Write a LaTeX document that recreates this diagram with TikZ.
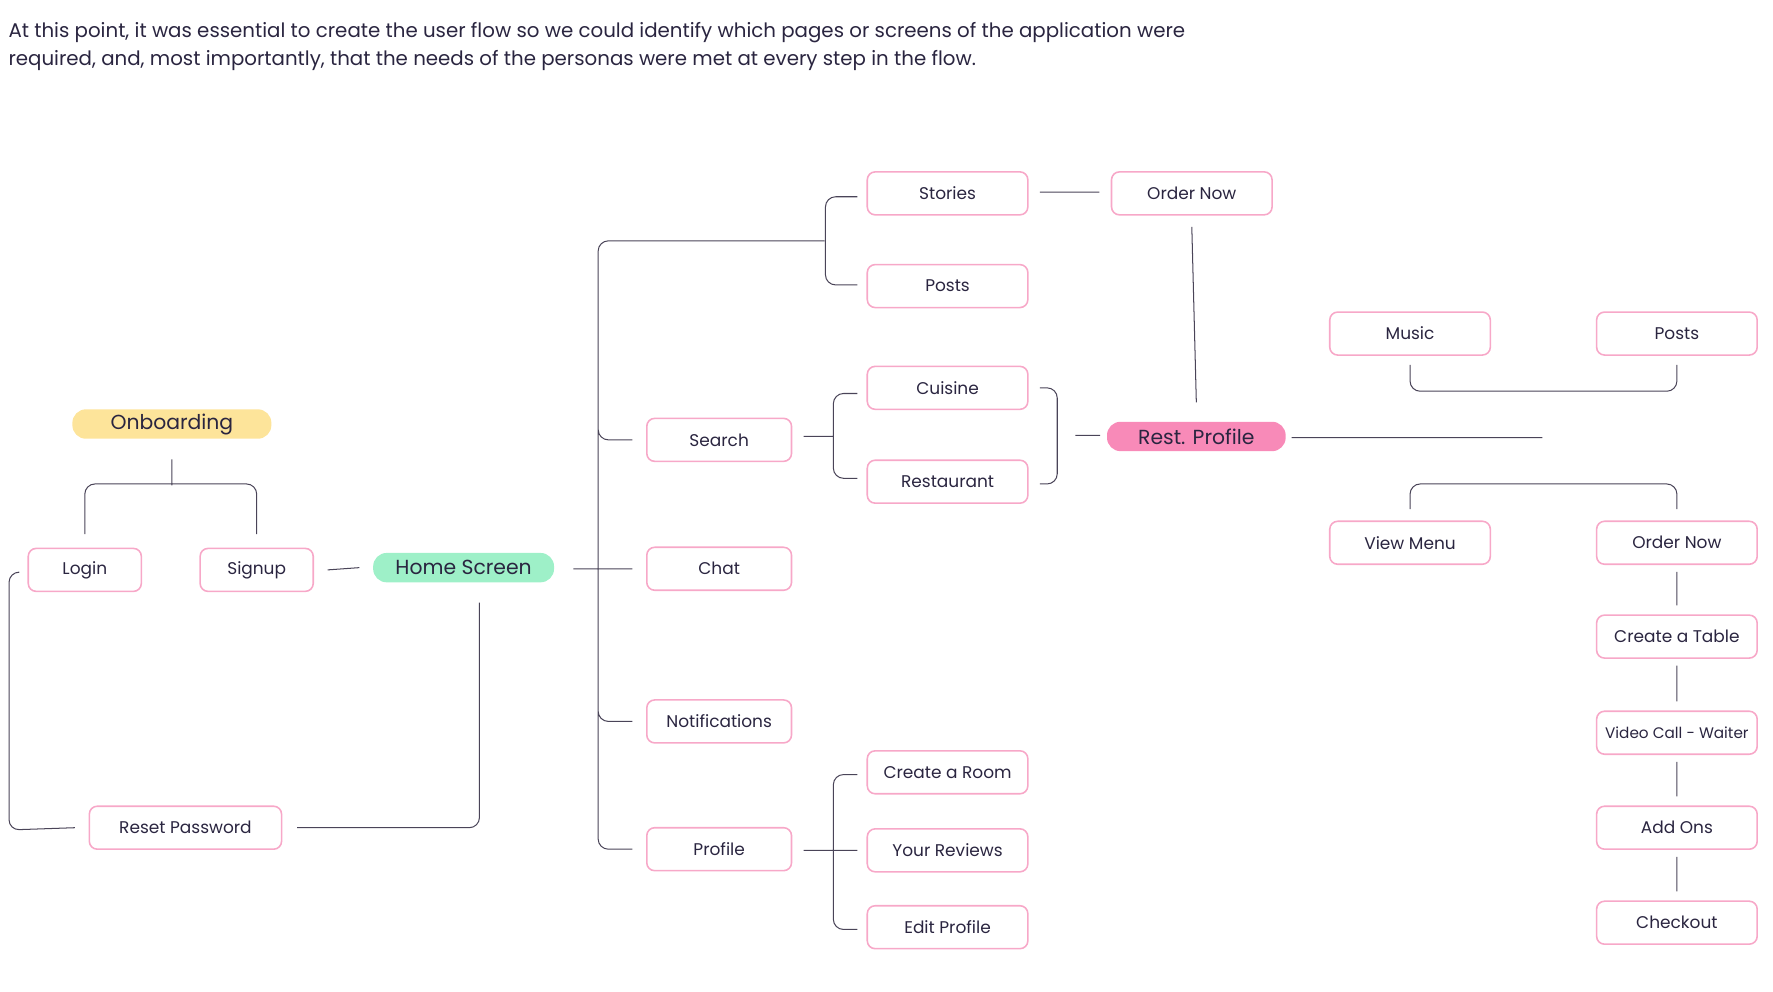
\documentclass[tikz,border=0pt]{standalone}
\usepackage{fontspec}
\setmainfont{Poppins}
\definecolor{boxpink}{HTML}{F7A8C8}
\definecolor{wire}{HTML}{4A4458}
\definecolor{ink}{HTML}{2A2540}
\definecolor{onbY}{HTML}{FDE49A}
\definecolor{homeG}{HTML}{9EF0C8}
\definecolor{restP}{HTML}{F88AB8}
\begin{document}
\begin{tikzpicture}[x=1pt,y=-1pt,
	box/.style = {draw=boxpink,line width=1.4pt,rounded corners=7pt,minimum width=142pt,minimum height=38pt,inner sep=0pt,text=ink,font=\fontsize{15}{18}\selectfont},
	hl node/.style = {rounded corners=12pt,minimum height=26pt,inner sep=0pt,text=ink,font=\fontsize{18}{20}\selectfont},
	wire/.style = {draw=wire,line width=0.9pt,rounded corners=9pt}]
	\useasboundingbox (0,0) rectangle (1568,877);
	\node[anchor=north west,align=left,text=ink,font=\fontsize{17.5}{25}\selectfont] (head) at (4,16)
	{At this point, it was essential to create the user flow so we could identify which pages or screens of the application were\\
	 required, and, most importantly, that the needs of the personas were met at every step in the flow.};

	% left part
	\node[hl node,fill=onbY,minimum width=176pt] (onb) at (152,375) {Onboarding};
	\node[box,minimum width=100pt] (login) at (75,504) {Login};
	\node[box,minimum width=100pt] (signup) at (227,504) {Signup};
	\node[hl node,fill=homeG,minimum width=160pt] (home) at (410,502) {Home Screen};
	\node[box,minimum width=170pt] (reset) at (164,732) {Reset Password};

	% middle column
	\node[box,minimum width=128pt] (search) at (636,389) {Search};
	\node[box,minimum width=128pt] (chat) at (636,503) {Chat};
	\node[box,minimum width=128pt] (notif) at (636,638) {Notifications};
	\node[box,minimum width=128pt] (profile) at (636,751) {Profile};
	\node[box] (stories) at (838,171) {Stories};
	\node[box] (posts) at (838,253) {Posts};
	\node[box] (cuisine) at (838,343) {Cuisine};
	\node[box] (restaurant) at (838,426) {Restaurant};
	\node[box] (room) at (838,683) {Create a Room};
	\node[box] (reviews) at (838,752) {Your Reviews};
	\node[box] (edit) at (838,820) {Edit Profile};

	% restaurant
	\node[box] (order1) at (1054,171) {Order Now};
	\node[hl node,fill=restP,minimum width=158pt] (rest) at (1058,386) {Rest. Profile};
	\node[box] (music) at (1247,295) {Music};
	\node[box] (posts2) at (1483,295) {Posts};
	\node[box] (menu) at (1247,480) {View Menu};
	\node[box] (order2) at (1483,480) {Order Now};
	\node[box] (table) at (1483,563) {Create a Table};
	\node[box,font=\fontsize{13.5}{16}\selectfont] (video) at (1483,648) {Video Call - Waiter};
	\node[box] (addons) at (1483,732) {Add Ons};
	\node[box] (checkout) at (1483,816) {Checkout};

	\path[wire]
	(onb.south) ++(0,18) -- ++(0,23)
	(login.north) ++(0,-12) |- (152,428) -| ([yshift=12pt]signup.north)
	([xshift=12pt]signup.east) -- ([xshift=-12pt]home.west)
	(424,533) |- ([xshift=13pt]reset.east)
	([yshift=-2pt,xshift=-8pt]login.west) -| (8,734) -- ([xshift=-12pt]reset.west)
	(507,503) -- ([xshift=-12pt]chat.west)
	(729,213) -| (529,751) -- ([xshift=-12pt]profile.west)
	(529,380) |- ([xshift=-12pt]search.west)
	(529,626) |- ([xshift=-12pt]notif.west)
	([xshift=-8pt,yshift=-3pt]stories.west) -| (730,213) |- ([xshift=-8pt,yshift=1pt]posts.west)
	([xshift=10pt,yshift=1pt]stories.east) -- ([xshift=-10pt,yshift=1pt]order1.west)
	([yshift=-10pt]order1.south) -- ([yshift=17pt]rest.north)
	([xshift=10pt,yshift=3pt]search.east) -- (737,386)
	([xshift=-8pt,yshift=-5pt]cuisine.west) -| (737,386) |- ([xshift=-8pt,yshift=3pt]restaurant.west)
	([xshift=10pt]cuisine.east) -| (935,386) |- ([xshift=10pt,yshift=-2pt]restaurant.east)
	(951,385) -- (973,385)
	([xshift=5pt,yshift=-1pt]rest.east) -- (1364,387)
	([yshift=-8pt]music.south) |- (1365,346) -| ([yshift=-8pt]posts2.south)
	([yshift=10pt]menu.north) |- (1365,428) -| ([yshift=10pt]order2.north)
	([yshift=-6pt]order2.south) -- ([yshift=8pt]table.north)
	([yshift=-6pt]table.south) -- ([yshift=8pt]video.north)
	([yshift=-6pt]video.south) -- ([yshift=8pt]addons.north)
	([yshift=-6pt]addons.south) -- ([yshift=8pt]checkout.north)
	([xshift=10pt,yshift=-1pt]profile.east) -- ([xshift=-8pt]reviews.west)
	([xshift=-8pt,yshift=-2pt]room.west) -| (737,752) |- ([xshift=-8pt,yshift=-2pt]edit.west);
\end{tikzpicture}
\end{document}
